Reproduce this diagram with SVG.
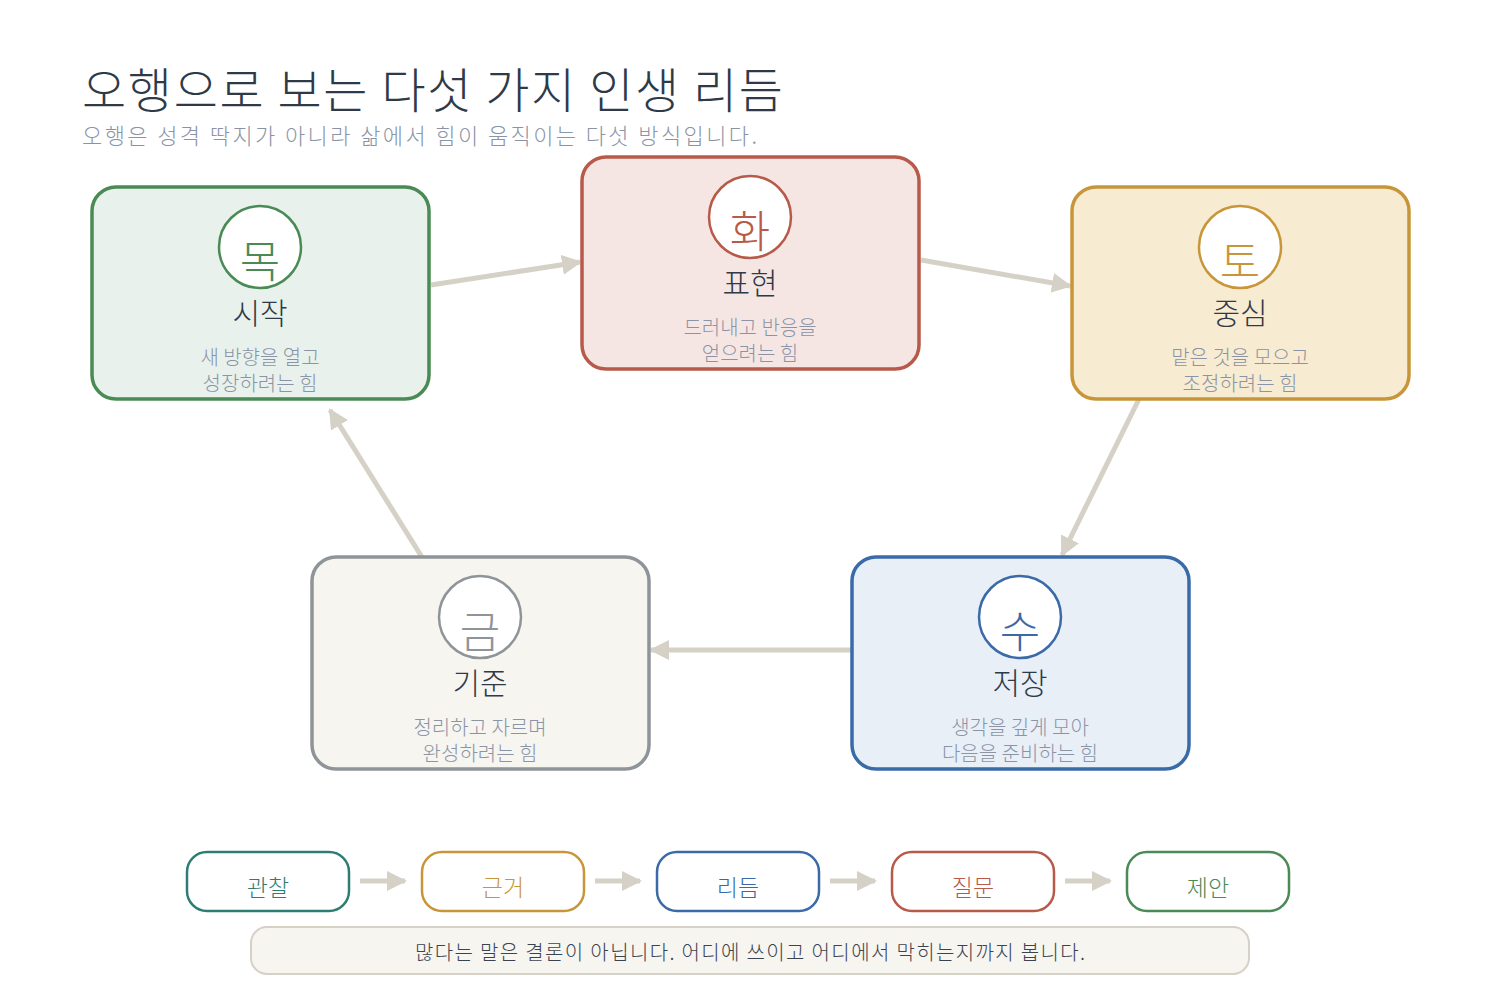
<svg xmlns="http://www.w3.org/2000/svg" width="1500" height="1000" viewBox="0 0 1500 1000">
<defs>
<marker id="ah" viewBox="0 0 10 10" refX="9" refY="5" markerWidth="4" markerHeight="4" orient="auto" markerUnits="strokeWidth"><path d="M0,0 L10,5 L0,10 z" fill="#d6d1c6"/></marker>
<style>
text{font-family:"Noto Sans CJK KR","Noto Sans",sans-serif;font-weight:300;text-anchor:middle}
.card{stroke-width:3.5}
.circ{fill:#fff;stroke-width:2.5}
.el{font-size:44px}
.lbl{font-size:30px;fill:#2f3a48}
.desc{font-size:20px;fill:#8a94a6}
.pill{fill:#fff;stroke-width:2.5}
.pt{font-size:23px}
.con{stroke:#d6d1c6;stroke-width:5;fill:none;marker-end:url(#ah)}
</style>
</defs>
<rect width="1500" height="1000" fill="#fff"/>
<text x="82" y="108" textLength="701" lengthAdjust="spacing" style="text-anchor:start;font-size:48px;fill:#2f3a48">오행으로 보는 다섯 가지 인생 리듬</text>
<text x="82" y="144" textLength="675" lengthAdjust="spacing" style="text-anchor:start;font-size:22px;fill:#8a94a6">오행은 성격 딱지가 아니라 삶에서 힘이 움직이는 다섯 방식입니다.</text>
<g id="connectors">
<line class="con" x1="431" y1="285" x2="580" y2="262"/>
<line class="con" x1="921" y1="260" x2="1070" y2="286"/>
<line class="con" x1="1140" y1="397" x2="1062" y2="555"/>
<line class="con" x1="860" y1="650" x2="651" y2="650"/>
<line class="con" x1="430" y1="570" x2="330" y2="410"/>
<line class="con" x1="360" y1="881" x2="405" y2="881"/>
<line class="con" x1="595" y1="881" x2="640" y2="881"/>
<line class="con" x1="830" y1="881" x2="875" y2="881"/>
<line class="con" x1="1065" y1="881" x2="1110" y2="881"/>
</g>
<g id="wood">
<rect class="card" x="92" y="187" width="337" height="212" rx="24" fill="#e8f1ec" stroke="#4a8a55"/>
<circle class="circ" cx="260" cy="247" r="41" stroke="#4a8a55"/>
<text class="el" x="260" y="278" fill="#4a8a55">목</text>
<text class="lbl" x="260" y="324">시작</text>
<text class="desc" x="260" y="365">새 방향을 열고</text>
<text class="desc" x="260" y="391">성장하려는 힘</text>
</g>
<g id="fire">
<rect class="card" x="582" y="157" width="337" height="212" rx="24" fill="#f6e6e3" stroke="#b85a4a"/>
<circle class="circ" cx="750" cy="217" r="41" stroke="#b85a4a"/>
<text class="el" x="750" y="248" fill="#b85a4a">화</text>
<text class="lbl" x="750" y="294">표현</text>
<text class="desc" x="750" y="335">드러내고 반응을</text>
<text class="desc" x="750" y="361">얻으려는 힘</text>
</g>
<g id="earth">
<rect class="card" x="1072" y="187" width="337" height="212" rx="24" fill="#f7ebd1" stroke="#c8963a"/>
<circle class="circ" cx="1240" cy="247" r="41" stroke="#c8963a"/>
<text class="el" x="1240" y="278" fill="#c8963a">토</text>
<text class="lbl" x="1240" y="324">중심</text>
<text class="desc" x="1240" y="365">맡은 것을 모으고</text>
<text class="desc" x="1240" y="391">조정하려는 힘</text>
</g>
<g id="water">
<rect class="card" x="852" y="557" width="337" height="212" rx="24" fill="#e8eff7" stroke="#3a6aa8"/>
<circle class="circ" cx="1020" cy="617" r="41" stroke="#3a6aa8"/>
<text class="el" x="1020" y="648" fill="#3a6aa8">수</text>
<text class="lbl" x="1020" y="694">저장</text>
<text class="desc" x="1020" y="735">생각을 깊게 모아</text>
<text class="desc" x="1020" y="761">다음을 준비하는 힘</text>
</g>
<g id="metal">
<rect class="card" x="312" y="557" width="337" height="212" rx="24" fill="#f6f5f0" stroke="#8f9499"/>
<circle class="circ" cx="480" cy="617" r="41" stroke="#8f9499"/>
<text class="el" x="480" y="648" fill="#8f9499">금</text>
<text class="lbl" x="480" y="694">기준</text>
<text class="desc" x="480" y="735">정리하고 자르며</text>
<text class="desc" x="480" y="761">완성하려는 힘</text>
</g>
<g id="step1"><rect class="pill" x="187" y="852" width="162" height="59" rx="20" stroke="#2e7d72"/><text class="pt" x="268" y="896" fill="#2e7d72">관찰</text></g>
<g id="step2"><rect class="pill" x="422" y="852" width="162" height="59" rx="20" stroke="#c8963a"/><text class="pt" x="503" y="896" fill="#c8963a">근거</text></g>
<g id="step3"><rect class="pill" x="657" y="852" width="162" height="59" rx="20" stroke="#3a6aa8"/><text class="pt" x="738" y="896" fill="#3a6aa8">리듬</text></g>
<g id="step4"><rect class="pill" x="892" y="852" width="162" height="59" rx="20" stroke="#b85a4a"/><text class="pt" x="973" y="896" fill="#b85a4a">질문</text></g>
<g id="step5"><rect class="pill" x="1127" y="852" width="162" height="59" rx="20" stroke="#4a8a55"/><text class="pt" x="1208" y="896" fill="#4a8a55">제안</text></g>
<g id="footer"><rect x="251" y="927" width="998" height="47" rx="16" fill="#f7f5f0" stroke="#d6d1c6" stroke-width="2"/><text x="750" y="960" textLength="670" lengthAdjust="spacing" style="font-size:20px;fill:#3a4350">많다는 말은 결론이 아닙니다. 어디에 쓰이고 어디에서 막히는지까지 봅니다.</text></g>
</svg>
